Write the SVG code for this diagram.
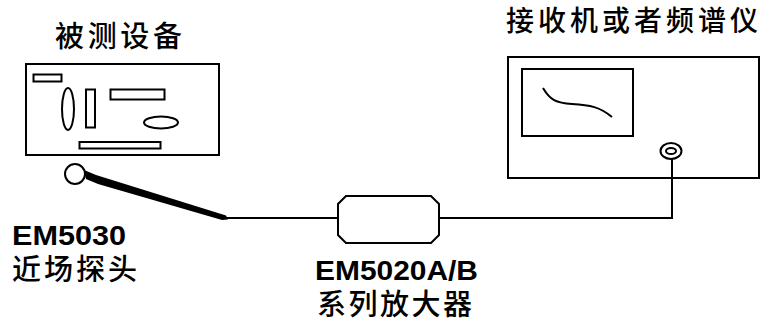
<svg xmlns="http://www.w3.org/2000/svg" width="766" height="325" viewBox="0 0 766 325">
<style>
.s{fill:none;stroke:#000;stroke-width:2}
.cn{font-family:"Noto Sans CJK SC","Noto Sans",sans-serif;fill:#000;font-weight:500}
.en{font-family:"Liberation Sans",Arial,sans-serif;font-weight:bold;fill:#000}
</style>
<rect width="766" height="325" fill="#fff"/>
<g id="device">
<text class="cn" x="55" y="47" font-size="29" font-weight="bold" textLength="127" lengthAdjust="spacing">被测设备</text>
<rect x="26" y="64" width="193" height="91" class="s" stroke-width="3"/>
<rect x="33.5" y="74.5" width="28" height="7" class="s" stroke-width="1.5"/>
<ellipse cx="68" cy="109" rx="6" ry="21" class="s" stroke-width="1.5"/>
<rect x="86" y="89.5" width="9" height="38" class="s" stroke-width="1.5"/>
<rect x="110.5" y="89.5" width="54" height="10" class="s" stroke-width="1.5"/>
<ellipse cx="161" cy="122.5" rx="17" ry="6" class="s" stroke-width="1.5"/>
<rect x="79.5" y="142" width="81" height="6.5" class="s" stroke-width="1.5"/>
</g>
<g id="probe">
<circle cx="75" cy="174" r="10" class="s" stroke-width="2.5"/>
<path d="M84,170 L96,175 L226,215.5 L228,219.5 L222,220 L98,184 L86,179 Z" fill="#000"/>
<text class="en" x="12" y="245" font-size="27" textLength="114" lengthAdjust="spacingAndGlyphs">EM5030</text>
<text class="cn" x="12" y="280" font-size="29" textLength="125" lengthAdjust="spacing">近场探头</text>
</g>
<g id="amplifier">
<path d="M346,196 L431,196 L439,204 L439,235 L431,243 L346,243 L338,235 L338,204 Z" class="s"/>
<text class="en" x="315" y="280" font-size="27" textLength="163" lengthAdjust="spacingAndGlyphs">EM5020A/B</text>
<text class="cn" x="317" y="315" font-size="29" textLength="155" lengthAdjust="spacing">系列放大器</text>
</g>
<g id="receiver">
<text class="cn" x="506" y="31" font-size="28" textLength="252" lengthAdjust="spacing">接收机或者频谱仪</text>
<rect x="508" y="57" width="251" height="121" class="s" stroke-width="2.5"/>
<rect x="522" y="69" width="111" height="67" class="s"/>
<path d="M543,88 C550,100 556,103 572,104 C590,105 600,107 612,117" class="s"/>
<ellipse cx="671" cy="151" rx="10.5" ry="8" class="s"/>
<ellipse cx="671" cy="151" rx="5" ry="3" class="s" stroke-width="1.5"/>
</g>
<g id="connectors">
<path d="M226,218 L338,218" class="s"/>
<path d="M439,218 L672,218 L672,159" class="s"/>
</g>
</svg>
